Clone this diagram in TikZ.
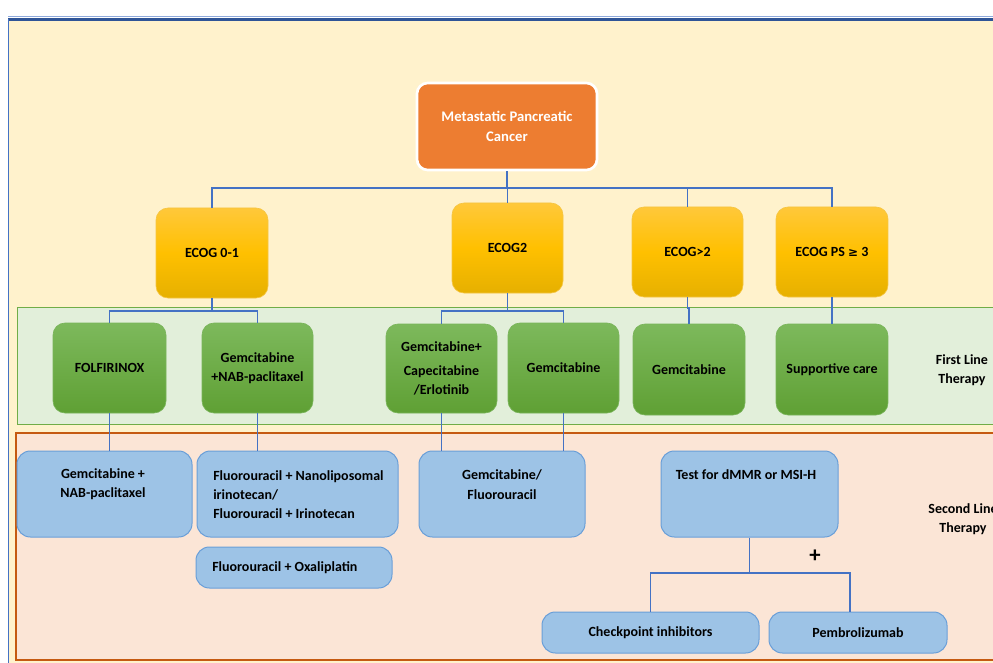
\documentclass[tikz,border=0pt]{standalone}
\usepackage{fontspec}
\setmainfont{Carlito}
\definecolor{linkblue}{HTML}{4472C4}
\definecolor{framedark}{HTML}{2F5597}
\definecolor{framelight}{HTML}{8FAADC}
\definecolor{cream}{HTML}{FFF2CC}
\definecolor{bandgreen}{HTML}{E2EFDA}
\definecolor{bandgreenline}{HTML}{70AD47}
\definecolor{bandorange}{HTML}{FBE5D6}
\definecolor{bandorangeline}{HTML}{C55A11}
\definecolor{rootorange}{HTML}{ED7D31}
\definecolor{goldtop}{HTML}{FFC83A}
\definecolor{goldmid}{HTML}{FFC000}
\definecolor{goldbot}{HTML}{E6B000}
\definecolor{goldline}{HTML}{F5C542}
\definecolor{greentop}{HTML}{7DB95C}
\definecolor{greenbot}{HTML}{5FA034}
\definecolor{greenline}{HTML}{79B45A}
\definecolor{bluefill}{HTML}{9DC3E6}
\definecolor{blueline}{HTML}{6A9FD8}
\begin{document}
\begin{tikzpicture}[x=0.75pt,y=-0.75pt,
  every node/.style={font=\bfseries\fontsize{10.5}{14.5}\selectfont, align=center, inner sep=0pt},
  dims/.style 2 args={minimum width=#1*0.75pt, minimum height=#2*0.75pt},
  conn/.style={draw=linkblue, line width=1.4pt},
  rootbox/.style={draw=white, line width=2pt, fill=rootorange, rounded corners=8pt, text=white,
    font=\bfseries\fontsize{11}{15}\selectfont},
  ecogbox/.style={draw=goldline, line width=0.5pt, rounded corners=9pt,
    top color=goldtop, bottom color=goldbot, middle color=goldmid},
  drugbox/.style={draw=greenline, line width=0.5pt, rounded corners=9pt,
    top color=greentop, bottom color=greenbot},
  nextbox/.style={draw=blueline, line width=0.75pt, fill=bluefill, rounded corners=10pt},
  sidetext/.style={text=black}
]
\useasboundingbox (0,0) rectangle (993,663);
\clip (0,0) rectangle (993,663);

% page background and frame
\fill[white] (0,0) rectangle (993,663);
\fill[cream] (8,19) rectangle (993,663);
\draw[framelight, line width=0.75pt] (8,16.5) -- (993,16.5);
\draw[framedark, line width=2.4pt] (8,19.5) -- (993,19.5);
\draw[linkblue, line width=0.75pt] (8,19) -- (8,663);

% therapy bands
\draw[fill=bandgreen, draw=bandgreenline, line width=0.75pt] (17,307) rectangle (1000,424);
\draw[fill=bandorange, draw=bandorangeline, line width=1.5pt] (16,433) rectangle (1000,660);

% root
\node[rootbox, dims={180}{87}] (root) at (507,126.5) {Metastatic Pancreatic\\Cancer};

% performance status
\node[ecogbox, dims={112}{90}] (e1) at (212,253) {ECOG 0-1};
\node[ecogbox, dims={111}{90}] (e2) at (507.5,248) {ECOG2};
\node[ecogbox, dims={111}{90}] (e3) at (687.5,252) {ECOG>2};
\node[ecogbox, dims={112}{90}] (e4) at (832,252) {ECOG PS {\fontspec{DejaVu Sans}\fontsize{9}{12}\selectfont ≥} 3};

% first line therapy
\node[drugbox, dims={113}{90}] (g1) at (109.5,368) {FOLFIRINOX};
\node[drugbox, dims={111}{90}] (g2) at (257.5,368) {Gemcitabine\\+NAB-paclitaxel};
\node[drugbox, dims={111}{89}] (g3) at (441.5,368.5) {Gemcitabine+\\[3pt]Capecitabine\\/Erlotinib};
\node[drugbox, dims={111}{90}] (g4) at (563.5,368) {Gemcitabine};
\node[drugbox, dims={112}{91}] (g5) at (689,369.5) {Gemcitabine};
\node[drugbox, dims={112}{91}] (g6) at (832,369.5) {Supportive care};
\node[sidetext] (first) at (962,370.5) {First Line\\Therapy};

% second line therapy
\node[nextbox, dims={175}{86}] (b1) at (104.5,494) {};
\node (b1t) at (103,484.5) {Gemcitabine +\\NAB-paclitaxel};
\node[nextbox, dims={201}{86}] (b2) at (297.5,494) {};
\node[anchor=west, align=left] (b2t) at (213,494.5) {Fluorouracil + Nanoliposomal\\irinotecan/\\Fluorouracil + Irinotecan};
\node[nextbox, dims={196}{41}] (b3) at (294,567.5) {};
\node[anchor=west] (b3t) at (212,568) {Fluorouracil + Oxaliplatin};
\node[nextbox, dims={166}{86}] (b4) at (502,494) {};
\node (b4t) at (502,484.5) {Gemcitabine/\\Fluorouracil};
\node[nextbox, dims={177}{86}] (b5) at (749.5,494) {};
\node (b5t) at (746,475) {Test for dMMR or MSI-H};
\node[nextbox, dims={217}{41}] (b6) at (650.5,632.5) {Checkpoint inhibitors};
\node[nextbox, dims={178}{41}] (b7) at (858,632.5) {Pembrolizumab};
\node[font=\bfseries\fontsize{17}{17}\selectfont] (plus) at (815,556) {+};
\node[sidetext] (second) at (963,519.5) {Second Line\\Therapy};

% connectors
\coordinate (bus0) at (0,188);
\coordinate (bus1) at (0,311);
\coordinate (jog) at (0,308);
\coordinate (bus2) at (0,573);
\coordinate (pemtop) at (850,612);

\draw[conn] (root.south) -- (root.south |- bus0);
\draw[conn] (e1.north) -- (e1.north |- bus0) -- (e4.north |- bus0) -- (e4.north);
\draw[conn] (e2.north) -- (e2.north |- bus0);
\draw[conn] (e3.north) -- (e3.north |- bus0);

\draw[conn] (e1.south) -- (e1.south |- bus1);
\draw[conn] (g1.north) -- (g1.north |- bus1) -- (g2.north |- bus1) -- (g2.north);
\draw[conn] (e2.south) -- (e2.south |- bus1);
\draw[conn] (g3.north) -- (g3.north |- bus1) -- (g4.north |- bus1) -- (g4.north);
\draw[conn] (e3.south) -- (e3.south |- jog) -- (g5.north |- jog) -- (g5.north);
\draw[conn] (e4.south) -- (g6.north);

\draw[conn] (g1.south) -- (g1.south |- b1.north);
\draw[conn] (g2.south) -- (g2.south |- b2.north);
\draw[conn] (g3.south) -- (g3.south |- b4.north);
\draw[conn] (g4.south) -- (g4.south |- b4.north);

\draw[conn] (b5.south) -- (b5.south |- bus2);
\draw[conn] (b6.north) -- (b6.north |- bus2) -- (pemtop |- bus2) -- (pemtop);
\end{tikzpicture}
\end{document}
